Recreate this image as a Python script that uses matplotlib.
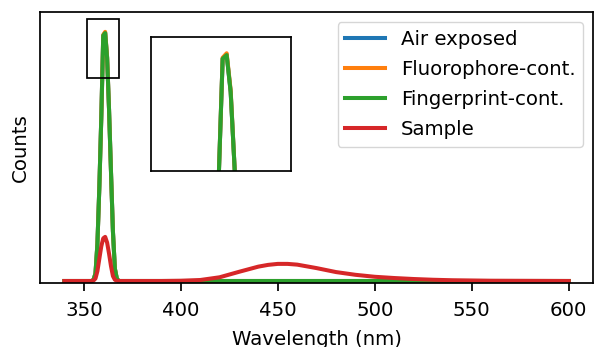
import matplotlib
matplotlib.use("Agg")
import matplotlib.pyplot as plt
from matplotlib.patches import Rectangle

# ---- data ----
wavelength = [340, 350, 354, 355, 356, 357, 358, 359, 360, 361, 362, 363, 364, 365,
              366, 367, 368, 370, 380, 390, 400, 410, 420, 430, 440, 445, 450, 455,
              460, 470, 480, 490, 500, 510, 520, 530, 540, 550, 560, 580, 600]

air_exposed = [0, 0, 0, 0.005, 0.03, 0.15, 0.38, 0.66, 0.99, 1.002, 0.90, 0.69, 0.44, 0.20,
               0.05, 0.01, 0, 0, 0, 0, 0, 0, 0, 0, 0, 0, 0, 0,
               0, 0, 0, 0, 0, 0, 0, 0, 0, 0, 0, 0, 0]

fluorophore = [0, 0, 0, 0.005, 0.03, 0.15, 0.38, 0.66, 0.993, 1.005, 0.905, 0.69, 0.44, 0.20,
               0.05, 0.01, 0, 0, 0, 0, 0, 0, 0, 0, 0, 0, 0, 0,
               0, 0, 0, 0, 0, 0, 0, 0, 0, 0, 0, 0, 0]

fingerprint = [0, 0, 0, 0.005, 0.03, 0.15, 0.38, 0.66, 0.99, 1.0, 0.90, 0.69, 0.44, 0.20,
               0.05, 0.01, 0, 0, 0, 0, 0, 0, 0, 0, 0, 0, 0, 0,
               0, 0, 0, 0, 0, 0, 0, 0, 0, 0, 0, 0, 0]

sample = [0, 0, 0, 0.002, 0.01, 0.04, 0.09, 0.14, 0.172, 0.178, 0.155, 0.11, 0.06, 0.02,
          0.005, 0.001, 0, 0, 0, 0, 0.001, 0.004, 0.015, 0.037, 0.058, 0.065, 0.069, 0.069,
          0.066, 0.052, 0.036, 0.025, 0.017, 0.012, 0.008, 0.005, 0.003, 0.002, 0.001, 0.0005, 0]

series_labels = ["Air exposed", "Fluorophore-cont.", "Fingerprint-cont.", "Sample"]
series_colors = ["#1f77b4", "#ff7f0e", "#2ca02c", "#d62728"]
xticks = [350, 400, 450, 500, 550, 600]

# zoom box drawn on main plot and inset limits
box_x = (351.6, 368.2)
box_y = (0.82, 1.055)
inset_xlim = (342.1, 377.0)
inset_ylim = (0.685, 1.05)

plt.rcParams["font.family"] = ["DejaVu Sans"]
FS = 14.2
LW = 2.9

W, H = 595, 347
fig = plt.figure(figsize=(W / 100, H / 100), dpi=100)
ax = fig.add_axes([40 / W, (H - 283.3) / H, (593 - 40) / W, (283.3 - 12) / H])

all_series = [air_exposed, fluorophore, fingerprint, sample]
for vals, lab, col in zip(all_series, series_labels, series_colors):
    ax.plot(wavelength, vals, color=col, lw=LW, label=lab)

ax.set_xlim(327.4, 612.5)
ax.set_ylim(-0.0093, 1.085)
ax.set_xticks(xticks)
ax.set_xticklabels([str(t) for t in xticks], fontsize=FS)
ax.set_yticks([])
ax.tick_params(axis="x", length=5.5, width=1.25, pad=7.5)
for sp in ax.spines.values():
    sp.set_linewidth(1.25)
ax.set_xlabel("Wavelength (nm)", fontsize=FS, labelpad=7)
ax.set_ylabel("Counts", fontsize=FS, labelpad=7.5)

ax.legend(loc="upper right", fontsize=FS, labelspacing=0.56, handlelength=2.0)

ax.add_patch(Rectangle((box_x[0], box_y[0]), box_x[1] - box_x[0], box_y[1] - box_y[0],
                       fill=False, edgecolor="black", lw=1.25, zorder=5))

axin = fig.add_axes([151 / W, (H - 171) / H, 139.7 / W, 134.3 / H])
for vals, col in zip(all_series, series_colors):
    axin.plot(wavelength, vals, color=col, lw=LW)
axin.set_xlim(*inset_xlim)
axin.set_ylim(*inset_ylim)
axin.set_xticks([])
axin.set_yticks([])
for sp in axin.spines.values():
    sp.set_linewidth(1.25)

fig.savefig("out.png", dpi=100)
